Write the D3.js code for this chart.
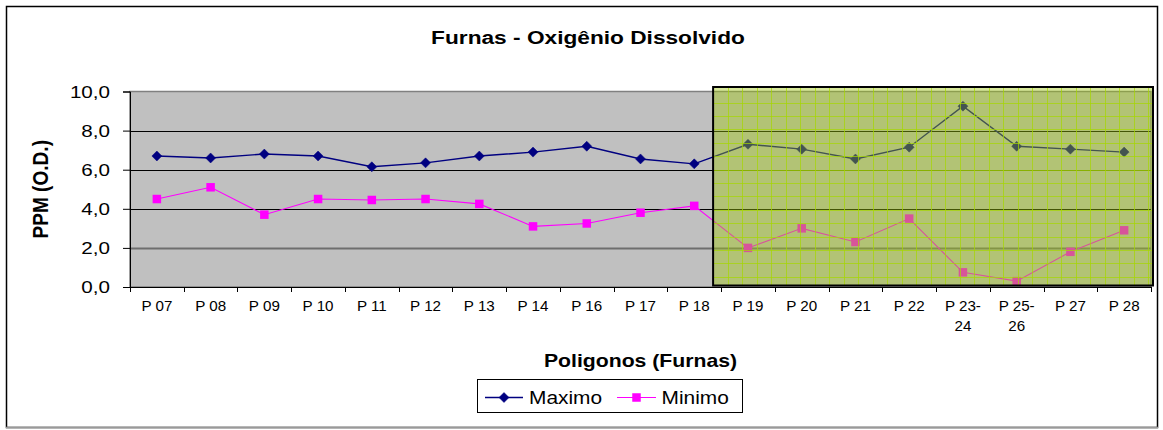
<!DOCTYPE html>
<html>
<head>
<meta charset="utf-8">
<script src="https://cdn.jsdelivr.net/npm/d3@7"></script>
<style>
  body { margin: 0; background: #fff; }
  svg { display: block; }
  text { font-family: "Liberation Sans", Arial, sans-serif; fill: #000; }
</style>
</head>
<body>
<svg id="chart" width="1163" height="430"></svg>
<script>
// Dissolved oxygen (ppm) per polygon, Furnas reservoir
const categories = ["P07","P08","P09","P10","P11","P12","P13","P14","P16","P17","P18",
                    "P19","P20","P21","P22","P23-24","P25-26","P27","P28"];
const categoryLabels = ["P 07","P 08","P 09","P 10","P 11","P 12","P 13","P 14","P 16","P 17","P 18",
                        "P 19","P 20","P 21","P 22","P 23-\n24","P 25-\n26","P 27","P 28"];
const maximo = [6.7, 6.6, 6.8, 6.7, 6.15, 6.35, 6.7, 6.9, 7.2, 6.55, 6.3,
                7.3, 7.05, 6.55, 7.15, 9.25, 7.2, 7.05, 6.9];
const minimo = [4.5, 5.1, 3.7, 4.5, 4.45, 4.5, 4.25, 3.1, 3.25, 3.8, 4.15,
                2.0, 3.0, 2.3, 3.5, 0.75, 0.3, 1.8, 2.9];
const yTicks = [0, 2, 4, 6, 8, 10];
const yTickLabels = ["0,0", "2,0", "4,0", "6,0", "8,0", "10,0"];
const highlightFrom = "P19";   // start of the highlighted polygon group

const svg = d3.select("#chart");
const plot = { left: 130, right: 1151, top: 91.5, bottom: 287 };

const x = d3.scaleBand().domain(categories).range([plot.left, plot.right]).padding(0);
const y = d3.scaleLinear().domain([0, 10]).range([plot.bottom, plot.top]);
const cx = d => x(d) + x.bandwidth() / 2;

// outer chart frame
svg.append("rect").attr("x", 6.5).attr("y", 6.5).attr("width", 1151).attr("height", 421)
  .attr("fill", "#fff").attr("stroke", "#000").attr("stroke-width", 1.5);
svg.append("line").attr("x1", 6).attr("x2", 1158).attr("y1", 427.5).attr("y2", 427.5)
  .attr("stroke", "#9a9a9a").attr("stroke-width", 1.5);

// helper: text drawn with a horizontal stretch
function sText(g, str, px, py, opt) {
  const sx = opt.sx || 1;
  return g.append("text")
    .attr("transform", `translate(${px},${py}) scale(${sx},1)`)
    .attr("text-anchor", opt.anchor || "start")
    .attr("font-size", opt.size)
    .attr("font-weight", opt.weight || "normal")
    .text(str);
}

// plot area background
svg.append("rect").attr("x", plot.left).attr("y", plot.top)
  .attr("width", plot.right - plot.left).attr("height", plot.bottom - plot.top)
  .attr("fill", "#c0c0c0").attr("stroke", "#808080").attr("stroke-width", 1.5);

// horizontal gridlines
svg.append("g").selectAll("line").data(yTicks.filter(v => v > 0 && v < 10)).join("line")
  .attr("x1", plot.left).attr("x2", plot.right)
  .attr("y1", d => Math.round(y(d)) + 0.5).attr("y2", d => Math.round(y(d)) + 0.5)
  .attr("stroke", d => d === 2 ? "#6e6e6e" : "#000")
  .attr("stroke-width", d => d === 2 ? 2 : 1);

// y axis
const yAxis = svg.append("g").attr("transform", `translate(${plot.left},0)`)
  .call(d3.axisLeft(y).tickValues(yTicks).tickSize(7).tickFormat((d, i) => yTickLabels[i]));
yAxis.select(".domain").attr("stroke", "#000");
yAxis.selectAll(".tick line").attr("stroke", "#000");
yAxis.selectAll(".tick text")
  .attr("font-family", "Liberation Sans, Arial, sans-serif")
  .attr("font-size", 16.5)
  .attr("fill", "#000")
  .attr("x", -20 / 1.25)
  .attr("dy", "0.36em")
  .attr("transform", "scale(1.25,1)");

// x axis line and ticks at category boundaries
const xAxis = svg.append("g");
xAxis.append("line").attr("x1", plot.left).attr("x2", plot.right)
  .attr("y1", plot.bottom + 0.5).attr("y2", plot.bottom + 0.5).attr("stroke", "#000");
const bounds = categories.map(c => x(c)).concat([plot.right]);
xAxis.selectAll("line.tk").data(bounds).join("line").attr("class", "tk")
  .attr("x1", d => Math.round(d) + 0.5).attr("x2", d => Math.round(d) + 0.5)
  .attr("y1", plot.bottom).attr("y2", plot.bottom + 5).attr("stroke", "#000");
categories.forEach((c, i) => {
  categoryLabels[i].split("\n").forEach((ln, k) => {
    sText(xAxis, ln, cx(c), plot.bottom + 23.7 + k * 19.8, { size: 13.8, sx: 1.1, anchor: "middle" });
  });
});

// series
const series = [
  { name: "Maximo", values: maximo, color: "#000080", width: 1.4, marker: "diamond" },
  { name: "Minimo", values: minimo, color: "#ff00ff", width: 1.1, marker: "square" }
];
const line = d3.line().x((d, i) => cx(categories[i])).y(d => y(d));
function drawMarker(g, type, px, py, color) {
  if (type === "diamond") {
    const r = 5;
    g.append("path").attr("d", `M${px},${py - r}L${px + r},${py}L${px},${py + r}L${px - r},${py}Z`)
      .attr("fill", color).attr("stroke", color).attr("stroke-width", 0.5);
  } else {
    const s = 8.5;
    g.append("rect").attr("x", px - s / 2).attr("y", py - s / 2).attr("width", s).attr("height", s)
      .attr("fill", color);
  }
}
series.forEach(s => {
  const g = svg.append("g");
  g.append("path").datum(s.values).attr("d", line)
    .attr("fill", "none").attr("stroke", s.color).attr("stroke-width", s.width);
  s.values.forEach((v, i) => drawMarker(g, s.marker, cx(categories[i]), y(v), s.color));
});

// translucent gridded highlight over the last group of polygons
const hl = {
  x0: x(highlightFrom) - 8,
  x1: plot.right + 2,
  y0: y(10) - 4.5,
  y1: y(0) - 1.5
};
const hg = svg.append("g");
hg.append("rect").attr("x", hl.x0).attr("y", hl.y0)
  .attr("width", hl.x1 - hl.x0).attr("height", hl.y1 - hl.y0)
  .attr("fill", "rgb(160,200,15)").attr("fill-opacity", 0.42);
const vStep = 14.5, hStep = 13.4;
hg.selectAll("line.v").data(d3.range(hl.x0 + vStep, hl.x1 - 2, vStep)).join("line").attr("class", "v")
  .attr("x1", d => Math.round(d) + 0.5).attr("x2", d => Math.round(d) + 0.5)
  .attr("y1", hl.y0).attr("y2", hl.y1)
  .attr("stroke", "rgb(165,215,0)").attr("stroke-opacity", 0.7);
hg.selectAll("line.h").data(d3.range(hl.y0 + 15.5, hl.y1 - 2, hStep)).join("line").attr("class", "h")
  .attr("x1", hl.x0).attr("x2", hl.x1)
  .attr("y1", d => Math.round(d) + 0.5).attr("y2", d => Math.round(d) + 0.5)
  .attr("stroke", "rgb(165,215,0)").attr("stroke-opacity", 0.7);
hg.append("rect").attr("x", hl.x0).attr("y", hl.y0)
  .attr("width", hl.x1 - hl.x0).attr("height", hl.y1 - hl.y0)
  .attr("fill", "none").attr("stroke", "#000").attr("stroke-width", 2);

// titles
sText(svg, "Furnas - Oxigênio Dissolvido", 588, 44, { size: 18.6, sx: 1.22, weight: "bold", anchor: "middle" });
sText(svg, "Poligonos (Furnas)", (plot.left + plot.right) / 2, 367, { size: 18.6, sx: 1.14, weight: "bold", anchor: "middle" });
svg.append("text")
  .attr("transform", `translate(48,${(plot.top + plot.bottom) / 2}) rotate(-90) scale(1.06,1.2)`)
  .attr("text-anchor", "middle").attr("font-size", 18).attr("font-weight", "bold")
  .text("PPM (O.D.)");

// legend
const lg = svg.append("g");
lg.append("rect").attr("x", 477.5).attr("y", 379.5).attr("width", 265).attr("height", 33)
  .attr("fill", "#fff").attr("stroke", "#000");
const legendItems = [
  { s: series[0], x0: 485, x1: 523, tx: 529 },
  { s: series[1], x0: 617, x1: 656, tx: 661.5 }
];
legendItems.forEach(it => {
  lg.append("line").attr("x1", it.x0).attr("x2", it.x1).attr("y1", 397.5).attr("y2", 397.5)
    .attr("stroke", it.s.color).attr("stroke-width", it.s.width);
  drawMarker(lg, it.s.marker, (it.x0 + it.x1) / 2, 397.5, it.s.color);
  sText(lg, it.s.name, it.tx, 404, { size: 18.5, sx: 1.13 });
});
</script>
</body>
</html>
